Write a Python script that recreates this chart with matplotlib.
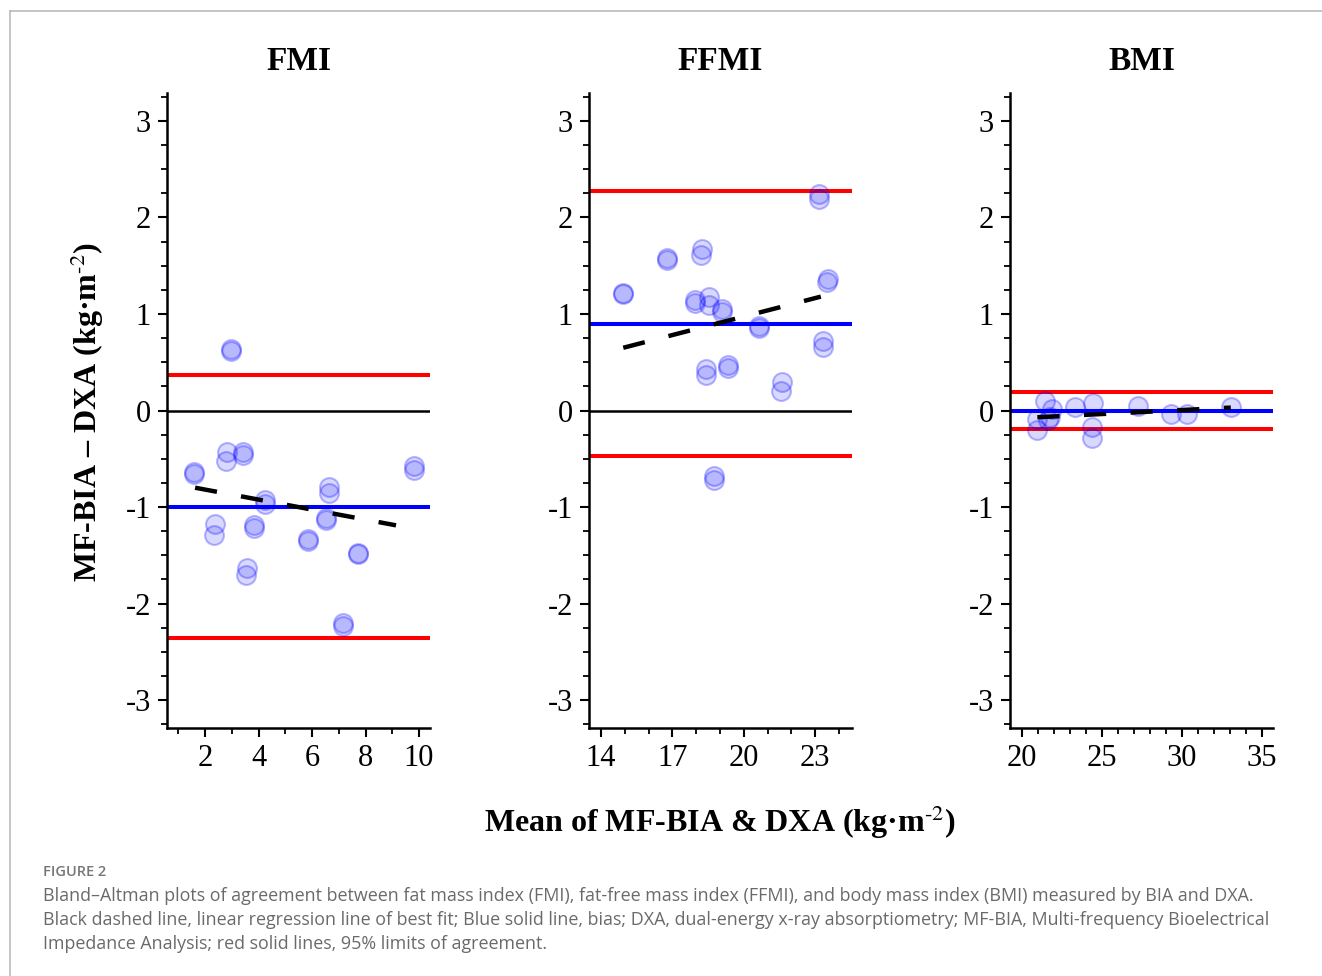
"""Bland-Altman plots: FMI, FFMI, BMI (MF-BIA vs DXA)."""

import matplotlib
matplotlib.use("Agg")
import matplotlib.pyplot as plt
from matplotlib.lines import Line2D
from matplotlib.ticker import MultipleLocator

plt.rcParams["font.family"] = ["Liberation Serif", "DejaVu Serif"]
plt.rcParams["mathtext.fontset"] = "stix"
plt.rcParams["axes.unicode_minus"] = False

# FMI: mean vs difference
fmi_x = [2.97, 2.97, 1.60, 1.60, 2.81, 2.79, 3.43, 3.43, 9.81, 9.81, 4.25, 4.25,
         6.65, 6.63, 6.52, 6.52, 2.39, 2.35, 3.83, 3.83, 5.85, 5.85, 7.71, 7.71,
         3.57, 3.55, 7.17, 7.17]
fmi_y = [0.64, 0.615, -0.64, -0.66, -0.43, -0.52, -0.425, -0.456, -0.57, -0.62,
         -0.93, -0.97, -0.795, -0.86, -1.116, -1.13, -1.18, -1.295, -1.185, -1.215,
         -1.33, -1.355, -1.48, -1.49, -1.63, -1.70, -2.20, -2.23]
fmi_bias = -1.0
fmi_loa = [0.373, -2.36]
fmi_fit_x = [1.63, 9.14]
fmi_fit_y = [-0.80, -1.19]

# FFMI
ffmi_x = [14.94, 14.94, 16.79, 16.79, 18.25, 18.21, 17.95, 17.95, 18.55, 18.55,
          19.10, 19.07, 20.66, 20.66, 23.18, 23.18, 23.55, 23.52, 23.35, 23.32,
          18.43, 18.40, 19.35, 19.35, 21.61, 21.58, 18.75, 18.74]
ffmi_y = [1.22, 1.21, 1.58, 1.56, 1.67, 1.61, 1.14, 1.11, 1.18, 1.09,
          1.05, 1.02, 0.88, 0.85, 2.24, 2.19, 1.36, 1.33, 0.72, 0.66,
          0.425, 0.373, 0.47, 0.44, 0.30, 0.20, -0.68, -0.72]
ffmi_bias = 0.90
ffmi_loa = [2.27, -0.47]
ffmi_fit_x = [14.94, 23.24]
ffmi_fit_y = [0.65, 1.18]

# BMI
bmi_x = [21.44, 21.85, 21.75, 21.65, 20.92, 20.92, 23.31, 24.42, 24.35, 24.35,
         27.27, 29.29, 30.33, 33.10]
bmi_y = [0.10, 0.02, -0.07, -0.10, -0.086, -0.207, 0.034, 0.08, -0.17, -0.29,
         0.05, -0.035, -0.035, 0.035]
bmi_bias = 0.0
bmi_loa = [0.195, -0.195]
bmi_fit_x = [20.96, 33.06]
bmi_fit_y = [-0.07, 0.03]

titles = ["FMI", "FFMI", "BMI"]
xlims = [(0.58, 10.41), (13.5, 24.55), (19.25, 35.7)]
xmajor = [[2, 4, 6, 8, 10], [14, 17, 20, 23], [20, 25, 30, 35]]

caption = [
    "Bland\u2013Altman plots of agreement between fat mass index (FMI), fat-free mass index (FFMI), and body mass index (BMI) measured by BIA and DXA.",
    "Black dashed line, linear regression line of best fit; Blue solid line, bias; DXA, dual-energy x-ray absorptiometry; MF-BIA, Multi-frequency Bioelectrical",
    "Impedance Analysis; red solid lines, 95% limits of agreement.",
]

unit = "(kg\u00b7m" + r"$^{\text{-2}}$)"

panels = [
    (fmi_x, fmi_y, fmi_bias, fmi_loa, fmi_fit_x, fmi_fit_y),
    (ffmi_x, ffmi_y, ffmi_bias, ffmi_loa, ffmi_fit_x, ffmi_fit_y),
    (bmi_x, bmi_y, bmi_bias, bmi_loa, bmi_fit_x, bmi_fit_y),
]

W, H = 1322, 976
fig = plt.figure(figsize=(W / 100, H / 100), dpi=100)

lefts = [167, 589, 1010]
ax_w, ax_top, ax_bot = 263, 93, 728

for i, (x, y, bias, loa, fx, fy) in enumerate(panels):
    ax = fig.add_axes([lefts[i] / W, 1 - ax_bot / H, ax_w / W, (ax_bot - ax_top) / H])
    ax.set_xlim(*xlims[i])
    ax.set_ylim(-3.29, 3.29)

    ax.axhline(0, color="black", lw=1.8, zorder=1)
    for v in loa:
        ax.axhline(v, color="red", lw=2.9, zorder=2)
    ax.axhline(bias, color="blue", lw=2.9, zorder=2)

    ax.scatter(x, y, s=185, facecolors=(0, 0, 1, 0.15),
               edgecolors=(0, 0, 1, 0.28), linewidths=1.5, zorder=3)
    ax.plot(fx, fy, color="black", lw=3.2, linestyle=(0, (5, 5.5)), zorder=4)

    for side in ("top", "right"):
        ax.spines[side].set_visible(False)
    for side in ("left", "bottom"):
        ax.spines[side].set_linewidth(1.8)

    ax.set_xticks(xmajor[i])
    ax.xaxis.set_minor_locator(MultipleLocator(1))
    ax.set_yticks([-3, -2, -1, 0, 1, 2, 3])
    ax.yaxis.set_minor_locator(MultipleLocator(0.25))
    ax.tick_params(which="major", length=6.5, width=1.5, labelsize=22, pad=5)
    ax.tick_params(which="minor", length=4, width=1.3)

    fig.text((lefts[i] + ax_w / 2) / W, 1 - 61 / H, titles[i],
             ha="center", va="center", fontsize=24, fontweight="bold")

fig.text(87 / W, 1 - 412 / H, "MF-BIA \u2013 DXA " + unit,
         rotation=90, ha="center", va="center", fontsize=23, fontweight="bold")
fig.text(720 / W, 1 - 822 / H, "Mean of MF-BIA & DXA " + unit,
         ha="center", va="center", fontsize=23, fontweight="bold")

# caption
fig.text(43 / W, 1 - 872 / H, "FIGURE 2", ha="left", va="center", fontweight="semibold",
         fontsize=10.5, color="#777777", family=["Open Sans", "DejaVu Sans"])
for k, line in enumerate(caption):
    fig.text(43 / W, 1 - (896 + 24 * k) / H, line, ha="left", va="center",
             fontsize=12.9, color="#6a6a6a", family=["Open Sans", "DejaVu Sans"])

# page frame
fig.add_artist(Line2D([10 / W, 1], [1 - 11 / H, 1 - 11 / H], color="#bbbbbb", lw=1.2))
fig.add_artist(Line2D([10 / W, 10 / W], [0, 1 - 11 / H], color="#bbbbbb", lw=1.2))

fig.savefig("out.png", dpi=100)
